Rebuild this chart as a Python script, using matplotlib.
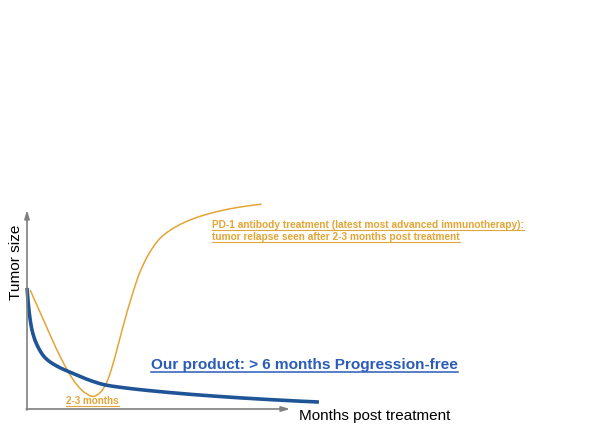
import matplotlib
matplotlib.use("Agg")
import matplotlib.pyplot as plt
import numpy as np

plt.rcParams['font.family'] = ['Liberation Sans', 'DejaVu Sans']

# Curves (x: months post treatment, y: relative tumor size)
product_x = [0.0, 0.087, 0.19, 0.38, 0.70, 1.2, 1.71, 2.35, 2.97, 3.61, 4.68, 6.58, 8.86, 11.1]
product_y = [0.608, 0.482, 0.397, 0.322, 0.256, 0.211, 0.181, 0.146, 0.121, 0.108,
             0.092, 0.070, 0.050, 0.035]

pd1_x = [0.12, 0.57, 1.08, 1.46, 1.84, 2.2, 2.51, 2.8, 3.05, 3.3, 3.6, 3.92, 4.30,
         4.68, 5.06, 5.56, 6.20, 6.96, 7.84, 8.92]
pd1_y = [0.598, 0.464, 0.313, 0.213, 0.131, 0.082, 0.063, 0.085, 0.14, 0.24, 0.39,
         0.539, 0.690, 0.790, 0.858, 0.908, 0.950, 0.983, 1.009, 1.029]

pd1_label = ["PD-1 antibody treatment (latest most advanced immunotherapy):",
             "tumor relapse seen after 2-3 months post treatment"]
product_label = "Our product: > 6 months Progression-free"
dip_label = "2-3 months"
x_label = "Months post treatment"
y_label = "Tumor size"

BLUE_LINE = "#1F5597"
BLUE_TEXT = "#2A5CB8"
ORANGE = "#E3A535"
AXIS = "#7F7F7F"

W, H = 600, 434
fig = plt.figure(figsize=(6, 4.34), dpi=100)
ax = fig.add_axes([27 / W, (H - 409) / H, (290 - 27) / W, (409 - 210) / H])
ax.set_xlim(0, 10)
ax.set_ylim(0, 1)
ax.axis("off")


def pchip(xs, ys, n=500):
    """Shape-preserving piecewise cubic (Fritsch-Carlson) through the points."""
    x = np.asarray(xs, float)
    y = np.asarray(ys, float)
    h = np.diff(x)
    d = np.diff(y) / h
    m = np.zeros_like(y)
    for k in range(1, len(x) - 1):
        if d[k - 1] * d[k] > 0:
            w1 = 2 * h[k] + h[k - 1]
            w2 = h[k] + 2 * h[k - 1]
            m[k] = (w1 + w2) / (w1 / d[k - 1] + w2 / d[k])
    m[0] = ((2 * h[0] + h[1]) * d[0] - h[0] * d[1]) / (h[0] + h[1])
    if np.sign(m[0]) != np.sign(d[0]):
        m[0] = 0
    m[-1] = ((2 * h[-1] + h[-2]) * d[-1] - h[-1] * d[-2]) / (h[-1] + h[-2])
    if np.sign(m[-1]) != np.sign(d[-1]):
        m[-1] = 0
    xx = np.linspace(x[0], x[-1], n)
    i = np.clip(np.searchsorted(x, xx, side="right") - 1, 0, len(x) - 2)
    s = (xx - x[i]) / h[i]
    yy = ((2 * s**3 - 3 * s**2 + 1) * y[i] + (s**3 - 2 * s**2 + s) * h[i] * m[i]
          + (-2 * s**3 + 3 * s**2) * y[i + 1] + (s**3 - s**2) * h[i] * m[i + 1])
    return xx, yy


# Axes arrows
arrow = dict(arrowstyle="-|>,head_length=0.5,head_width=0.15",
             color=AXIS, lw=1.2, shrinkA=0, shrinkB=0)
ax.annotate("", xy=(0, 1.0), xytext=(0, -0.005), arrowprops=arrow, annotation_clip=False)
ax.annotate("", xy=(10, 0), xytext=(-0.03, 0), arrowprops=arrow, annotation_clip=False)

sx, sy = pchip(pd1_x, pd1_y)
ax.plot(sx, sy, color=ORANGE, lw=1.1, clip_on=False, solid_capstyle="butt")
bx, by = pchip(product_x, product_y)
ax.plot(bx, by, color=BLUE_LINE, lw=2.6, clip_on=False, solid_capstyle="butt")

t1 = fig.text(212 / W, 1 - 225 / H, pd1_label[0], color=ORANGE, fontsize=7.3,
              fontweight="bold", va="center", ha="left")
t2 = fig.text(212 / W, 1 - 237.5 / H, pd1_label[1], color=ORANGE, fontsize=7.3,
              fontweight="bold", va="center", ha="left")
t3 = fig.text(151 / W, 1 - 365 / H, product_label, color=BLUE_TEXT, fontsize=11.1,
              fontweight="bold", va="center", ha="left")
t4 = fig.text(66 / W, 1 - 401 / H, dip_label, color=ORANGE, fontsize=7.1,
              fontweight="bold", va="center", ha="left")
underlined = [(t1, 0.8), (t2, 0.8), (t3, 1.1), (t4, 0.8)]

fig.text(299 / W, 1 - 416 / H, x_label, color="black", fontsize=11.0,
         va="center", ha="left")
fig.text(16 / W, 1 - 262 / H, y_label, color="black", fontsize=11.1,
         va="center", ha="center", rotation=90)

# Underline the coloured labels
fig.canvas.draw()
renderer = fig.canvas.get_renderer()
for t, lw in underlined:
    bb = t.get_window_extent(renderer)
    y = bb.y0 + 0.5
    fig.add_artist(plt.Line2D([bb.x0 / W, bb.x1 / W], [y / H, y / H],
                              transform=fig.transFigure, color=t.get_color(), lw=lw))

fig.savefig("out.png", dpi=100, facecolor="white")
